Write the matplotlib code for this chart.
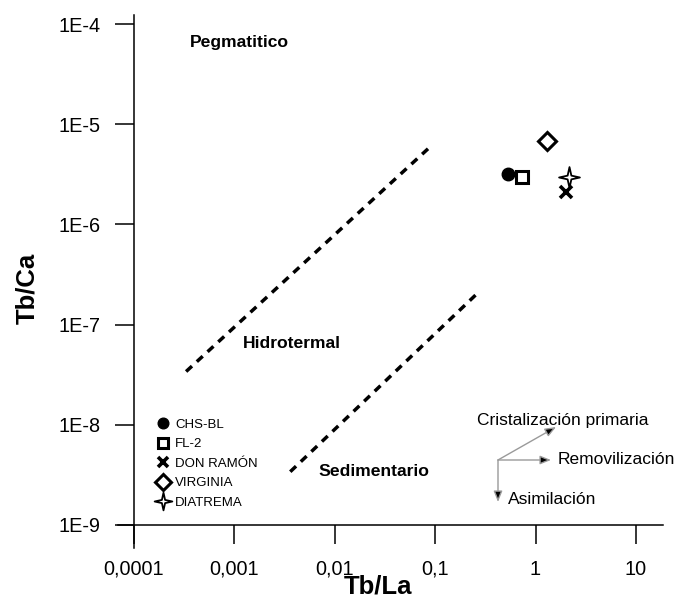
import numpy as np
import matplotlib.pyplot as plt
from matplotlib.path import Path

plt.rcParams['font.family'] = ['Liberation Sans', 'DejaVu Sans']

# muestras
samples = ['CHS-BL', 'FL-2', 'DON RAMÓN', 'VIRGINIA', 'DIATREMA']
tb_la = [0.53, 0.74, 2.03, 1.31, 2.17]
tb_ca = [3.2e-6, 3.0e-6, 2.1e-6, 6.8e-6, 3.0e-6]

# limites de campos (lineas punteadas)
upper_x = [3.3e-4, 0.09]
upper_y = [3.4e-8, 6.0e-6]
lower_x = [3.6e-3, 0.27]
lower_y = [3.4e-9, 2.1e-7]

xticks = [1e-4, 1e-3, 1e-2, 1e-1, 1, 10]
xlabels = ['0,0001', '0,001', '0,01', '0,1', '1', '10']
yticks = [1e-9, 1e-8, 1e-7, 1e-6, 1e-5, 1e-4]
ylabels = ['1E-9', '1E-8', '1E-7', '1E-6', '1E-5', '1E-4']

# estrella de 4 puntas
s = 0.18
star = Path([(0, 1), (s, s), (1, 0), (s, -s), (0, -1), (-s, -s), (-1, 0), (-s, s), (0, 1)],
            [Path.MOVETO] + [Path.LINETO] * 7 + [Path.CLOSEPOLY])

styles = [
    dict(marker='o', ms=9, mfc='black', mec='black', mew=1),
    dict(marker='s', ms=8.5, mfc='white', mec='black', mew=2.2),
    dict(marker='x', ms=9, mfc='black', mec='black', mew=2.6),
    dict(marker='D', ms=9, mfc='white', mec='black', mew=2.2),
    dict(marker=star, ms=15, mfc='white', mec='black', mew=1.3),
]

W, H = 676, 601
fig = plt.figure(figsize=(W / 100, H / 100), dpi=100)
ax = fig.add_axes([118 / W, 1 - 548 / H, (663 - 118) / W, (548 - 15) / H])
ax.set_xscale('log')
ax.set_yscale('log')
ax.set_xlim(10 ** -4.16, 10 ** 1.27)
ax.set_ylim(10 ** -9.23, 10 ** -3.91)

ax.spines['top'].set_visible(False)
ax.spines['right'].set_visible(False)
ax.spines['left'].set_position(('data', 1e-4))
ax.spines['bottom'].set_position(('data', 1e-9))
for sp in ['left', 'bottom']:
    ax.spines[sp].set_linewidth(1.1)

ax.set_xticks(xticks, xlabels)
ax.set_yticks(yticks, ylabels)
ax.minorticks_off()
ax.tick_params(axis='both', direction='out', length=14, width=1.1, labelsize=14.3)
ax.tick_params(axis='y', pad=10)
ax.tick_params(axis='x', pad=11)

ax.set_xlabel('Tb/La', fontsize=18.5, fontweight='bold', va='center')
ax.set_ylabel('Tb/Ca', fontsize=18.5, fontweight='bold', va='center')
ax.xaxis.set_label_coords(378 / W, 1 - 587 / H, transform=fig.transFigure)
ax.yaxis.set_label_coords(27 / W, 1 - 288 / H, transform=fig.transFigure)

ax.plot(upper_x, upper_y, color='black', lw=2.5, ls=(0, (2.3, 1.9)))
ax.plot(lower_x, lower_y, color='black', lw=2.5, ls=(0, (2.3, 1.9)))

for name, x, y, st in zip(samples, tb_la, tb_ca, styles):
    ax.plot([x], [y], ls='none', label=name, **st)

leg = ax.legend(frameon=False, loc='upper left', bbox_to_anchor=(150 / W, 1 - 412 / H),
                bbox_transform=fig.transFigure, fontsize=9.5, handlelength=1.0,
                handletextpad=0.4, labelspacing=0.55, borderpad=0, markerscale=0.85)

# campos
field_kw = dict(transform=fig.transFigure, fontsize=12.6, fontweight='bold',
                va='center', ha='left')
ax.text(190 / W, 1 - 43 / H, 'Pegmatitico', **field_kw)
ax.text(243 / W, 1 - 344 / H, 'Hidrotermal', **field_kw)
ax.text(318 / W, 1 - 471 / H, 'Sedimentario', **field_kw)

# flechas de tendencia
def fp(px, py):
    return (px / W, 1 - py / H)

origin = fp(498, 460)
aprops = dict(arrowstyle='-|>,head_length=0.65,head_width=0.26', ec='#9a9a9a', fc='black',
              lw=1.0, shrinkA=0, shrinkB=0)
for tip in [fp(556, 427), fp(551, 460), fp(498, 502)]:
    ax.annotate('', xy=tip, xytext=origin, xycoords='figure fraction',
                textcoords='figure fraction', arrowprops=aprops)

note_kw = dict(transform=fig.transFigure, fontsize=12.5, va='center', ha='left')
ax.text(477 / W, 1 - 421 / H, 'Cristalización primaria', **note_kw)
ax.text(558 / W, 1 - 460 / H, 'Removilización', **note_kw)
ax.text(508 / W, 1 - 500 / H, 'Asimilación', **note_kw)

fig.savefig('out.png', dpi=100)
